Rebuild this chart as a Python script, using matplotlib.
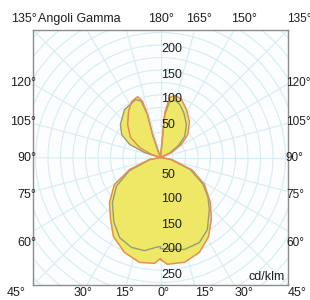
import numpy as np
import matplotlib.pyplot as plt
from matplotlib.patches import Circle

plt.rcParams['font.family'] = ['Liberation Sans', 'DejaVu Sans']

# C0 plane (orange), right half and left half: gamma (deg) -> cd/klm
gamma_c0_r = [0, 3.7, 12.9, 22.3, 31.3, 39.4, 48, 58.5, 68.5, 80, 90,
              114, 122, 130, 141, 151.6, 160, 166.4, 171.5, 174.5, 180]
cd_c0_r = [204, 214, 215, 205, 185, 160, 134, 103, 68, 22, 0,
           24, 49, 71, 92, 109, 123, 128, 121, 90, 0]
gamma_c0_l = [0, 3.2, 11.3, 20.8, 30.8, 38.9, 48.6, 59.6, 68.8, 79.7, 90,
              100, 108.4, 115.5, 123.7, 135, 145.2, 152.6, 159.3, 162.2, 163.2, 160.8, 159.4, 180]
cd_c0_l = [202, 212, 214, 203, 184, 159, 136, 107, 66, 22, 0,
           0, 19, 46, 72, 93, 112, 126, 130, 118, 90, 49, 17, 0]

# C90 plane (grey)
gamma_c90_r = [0, 5.6, 14.6, 24.6, 33, 43, 50, 58, 68, 80, 90,
               116, 124, 131, 142, 152, 160, 166, 171, 174.5, 180]
cd_c90_r = [182, 185, 190, 187, 172, 143, 124, 100, 64, 20, 0,
            20, 44, 64, 84, 100, 113, 118, 112, 85, 0]
gamma_c90_l = [0, 3, 9.8, 18, 27, 36, 46.8, 57, 67, 79, 90,
               98, 107.4, 113, 120.5, 129.5, 143.1, 156.7, 161, 163, 161, 160, 180]
cd_c90_l = [178, 180, 189, 189, 180, 159, 132, 105, 68, 22, 0,
            0, 34, 67, 90, 104, 120, 126, 120, 90, 49, 15, 0]

ring_labels = [50, 100, 150, 200, 250]
upper_labels = [50, 100, 150, 200]


def to_xy(g_r, c_r, g_l, c_l):
    # right half: x positive, left half mirrored; gamma 0 points down
    gr = np.radians(g_r)
    gl = np.radians(g_l)[::-1]
    cl = np.array(c_l)[::-1]
    x = np.concatenate([np.array(c_r) * np.sin(gr), -cl * np.sin(gl)])
    y = np.concatenate([-np.array(c_r) * np.cos(gr), -cl * np.cos(gl)])
    return x, y


fig = plt.figure(figsize=(3.1, 3.0), dpi=100)
ax = fig.add_axes([0.1065, 0.05, 0.8226, 0.85])
lim = 255
ax.set_xlim(-lim, lim)
ax.set_ylim(-lim, lim)
ax.set_xticks([])
ax.set_yticks([])
ax.set_facecolor('#fbfdfe')
for s in ax.spines.values():
    s.set_color('#8c8c8c')
    s.set_linewidth(1.0)

grid_c = '#d6ecf3'
for r in range(25, 400, 25):
    ax.add_patch(Circle((0, 0), r, fill=False, ec=grid_c, lw=0.8, zorder=1))
for a in range(0, 360, 15):
    t = np.radians(a)
    ax.plot([0, 400 * np.sin(t)], [0, -400 * np.cos(t)], color=grid_c, lw=0.8, zorder=1)

x0, y0 = to_xy(gamma_c0_r, cd_c0_r, gamma_c0_l, cd_c0_l)
x9, y9 = to_xy(gamma_c90_r, cd_c90_r, gamma_c90_l, cd_c90_l)
ax.fill(x9, y9, color='#efe866', lw=0, zorder=2)
ax.fill(x0, y0, color='#efe866', lw=0, zorder=2)
ax.plot(np.append(x9, x9[0]), np.append(y9, y9[0]), color='#939c80', lw=1.0, zorder=3)
ax.plot(np.append(x0, x0[0]), np.append(y0, y0[0]), color='#e39050', lw=1.1, zorder=4)

txt = dict(fontsize=9, color='#1e1e1e', zorder=5)
for v in ring_labels:
    ax.text(2, -v + 16, str(v), ha='left', va='center', **txt)
for v in upper_labels:
    ax.text(2, v + 16, str(v), ha='left', va='center', **txt)
ax.text(248, -238, 'cd/klm', ha='right', va='center', **txt)


# gamma labels around the frame (figure pixels)
def ftext(px, py, s, ha='center', size=9):
    fig.text(px / 310, 1 - py / 300, s, ha=ha, va='center', fontsize=size, color='#1e1e1e')


ftext(37, 19, '135°', 'right')
ftext(38, 19, 'Angoli Gamma', 'left')
ftext(161, 19, '180°')
ftext(199, 19, '165°')
ftext(244, 19, '150°')
ftext(287, 19, '135°', 'left', 8.5)
for py, s in [(83, '120°'), (122, '105°'), (158, '90°'), (195, '75°'), (243, '60°')]:
    ftext(36, py, s, 'right')
    ftext(286, py, s, 'left', 8.5)
for px, s in [(16, '45°'), (83, '30°'), (124, '15°'), (163, '0°'), (205, '15°'), (244, '30°'), (297, '45°')]:
    ftext(px, 293, s)

fig.savefig('out.png', dpi=100)
